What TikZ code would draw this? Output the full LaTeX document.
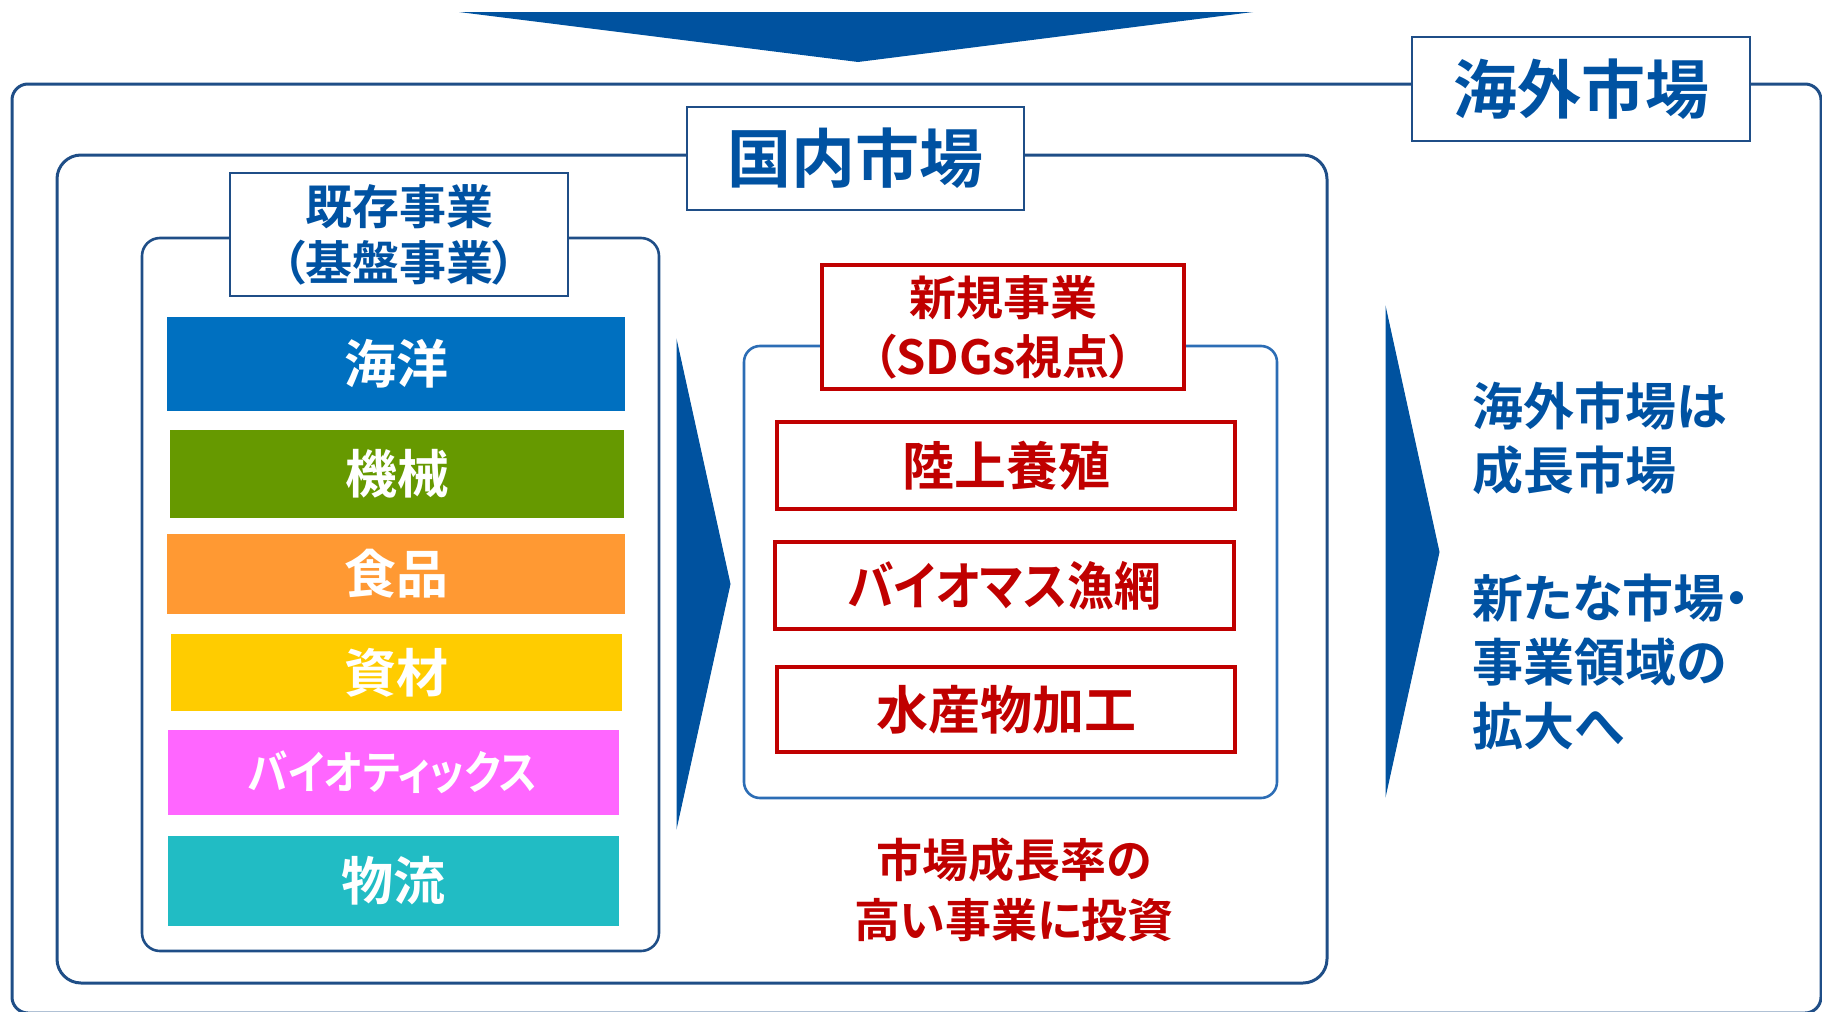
\documentclass[tikz,border=0pt]{standalone}
\usepackage{fontspec}
\usepackage{graphicx}
\setmainfont{Noto Sans CJK JP}[RawFeature=+palt, BoldFont={* Bold}]
\definecolor{navy}{HTML}{1F4E87}
\definecolor{tblue}{HTML}{0052A2}
\definecolor{arrowblue}{HTML}{00529F}
\definecolor{midblue}{HTML}{2C6DB5}
\definecolor{dred}{HTML}{C00000}
\definecolor{cumi}{HTML}{0070C0}
\definecolor{ckikai}{HTML}{669900}
\definecolor{cfood}{HTML}{FF9933}
\definecolor{cmat}{HTML}{FFCC00}
\definecolor{cbio}{HTML}{FF66FF}
\definecolor{clogi}{HTML}{21BCC4}
\newcommand{\fsz}[1]{\fontsize{#1pt}{#1pt}\selectfont\bfseries}
\begin{document}
\begin{tikzpicture}[x=0.5pt,y=-0.5pt,
  frame/.style={draw=navy, line width=1.5pt},
  lab/.style={draw=navy, line width=1.2pt, fill=white, inner sep=0pt, text=tblue, align=center},
  bar/.style={inner sep=0pt, text=white, font=\fsz{26}},
  redbox/.style={draw=dred, line width=2.2pt, fill=white, inner sep=0pt, text=dred, font=\fsz{26}},
  bigarrow/.style={fill=arrowblue, draw=arrowblue, line width=0.5pt, line join=miter}
]
\useasboundingbox (0,0) rectangle (1822,1012);

% top down arrow
\fill[arrowblue] (459,12) -- (1253,12) -- (858,62) -- cycle;

% outer box (overseas market)
\draw[frame, rounded corners=8pt] (12,84) rectangle (1821,1013);
\node[lab, minimum width=169pt, minimum height=52pt, font=\fsz{32}] (kaigai) at (1581,89) {海外市場};

% domestic market box
\draw[frame, rounded corners=12pt] (57,155) rectangle (1327,983);
\node[lab, minimum width=168.5pt, minimum height=51.5pt, font=\fsz{32}] (kokunai) at (855.5,158.5) {国内市場};

% existing business box
\draw[frame, line width=1.3pt, rounded corners=9pt] (142,238) rectangle (659,951);
\node[lab, minimum width=169pt, minimum height=61.5pt, font=\fontsize{23.5pt}{28pt}\selectfont\bfseries] (kizon) at (399,234.5) {既存事業\\（基盤事業）};

% colored bars
\node[bar, fill=cumi,   minimum width=229pt,   minimum height=47pt]   (umi)  at (396,363.5) {海洋};
\node[bar, fill=ckikai, minimum width=227pt,   minimum height=44pt]   (kikai) at (397,474) {機械};
\node[bar, fill=cfood,  minimum width=229pt,   minimum height=40pt]   (food) at (396,573.5) {食品};
\node[bar, fill=cmat,   minimum width=225.5pt, minimum height=38.5pt] (mat)  at (396.5,672.5) {資材};
\node[bar, fill=cbio,   minimum width=225.5pt, minimum height=42.5pt, font=\fsz{23}] (bio)  at (393,772.5) {\scalebox{0.88}[1]{バイオティックス}};
\node[bar, fill=clogi,  minimum width=225.5pt, minimum height=45pt]   (logi) at (393,880.5) {物流};

% middle arrow
\path[bigarrow] (677,343) -- (730,584) -- (677,825) -- cycle;

% new business box
\draw[draw=midblue, line width=1.3pt, rounded corners=8pt] (744,346) rectangle (1277,798);
\node[draw=dred, line width=2.2pt, fill=white, inner sep=0pt, text=dred, align=center,
      minimum width=181pt, minimum height=62pt, font=\fontsize{23.5pt}{29.5pt}\selectfont\bfseries] (shinki) at (1003,327) {新規事業\\（SDGs視点）};

\node[redbox, minimum width=229pt, minimum height=43.5pt] (riku) at (1006,465.5) {陸上養殖};
\node[redbox, minimum width=229.5pt, minimum height=43.5pt] (ami) at (1004.5,585.5) {\scalebox{0.9}[1]{バイオマス漁網}};
\node[redbox, minimum width=229pt, minimum height=42.5pt] (kako) at (1006,709.5) {水産物加工};

\node[text=dred, align=center, inner sep=0pt, font=\fontsize{23pt}{30pt}\selectfont\bfseries] (toshi) at (1014,890) {市場成長率の\\高い事業に投資};

% right arrow
\path[bigarrow] (1386,310) -- (1439,552) -- (1386,793) -- cycle;

\node[text=tblue, align=left, inner sep=0pt, anchor=west, font=\fontsize{25.5pt}{32pt}\selectfont\bfseries] (right) at (1472,566)
 {海外市場は\\成長市場\\\mbox{}\\新たな市場・\\事業領域の\\拡大へ};
\end{tikzpicture}
\end{document}
